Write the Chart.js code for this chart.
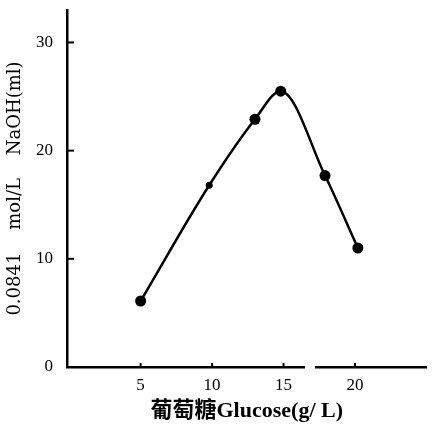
<!DOCTYPE html>
<html>
<head>
<meta charset="utf-8">
<script src="https://cdn.jsdelivr.net/npm/chart.js@4"></script>
<style>
  html, body { margin: 0; padding: 0; background: #fff; }
  #wrap { width: 432px; height: 431px; }
</style>
</head>
<body>
<div id="wrap"><canvas id="graphCanvas" width="432" height="431"></canvas></div>
<script>
var glucose = [5, 9.8, 13, 14.8, 17.9, 20.2];
var naoh = [6.1, 16.8, 22.9, 25.5, 17.7, 11.0];
var xTicks = [5, 10, 15, 20];
var yTicks = [0, 10, 20, 30];

var serif = "'Liberation Serif', 'DejaVu Serif', serif";

// small inward tick marks and the break in the x axis, like the scanned figure
var axisMarks = {
    id: 'axisMarks',
    afterDraw: function (chart) {
        var ctx = chart.ctx;
        var xs = chart.scales.x, ys = chart.scales.y;
        var area = chart.chartArea;
        ctx.save();
        ctx.fillStyle = '#fff';
        var g0 = xs.getPixelForValue(16.5), g1 = xs.getPixelForValue(17.2);
        ctx.fillRect(g0, area.bottom - 3, g1 - g0, 6);
        ctx.strokeStyle = '#000';
        ctx.lineWidth = 2;
        for (var i = 0; i < yTicks.length; i++) {
            if (yTicks[i] === 0) continue;
            var py = ys.getPixelForValue(yTicks[i]);
            ctx.beginPath();
            ctx.moveTo(area.left, py);
            ctx.lineTo(area.left + 7, py);
            ctx.stroke();
        }
        for (var j = 0; j < xTicks.length; j++) {
            var px = xs.getPixelForValue(xTicks[j]);
            ctx.beginPath();
            ctx.moveTo(px, area.bottom);
            ctx.lineTo(px, area.bottom - 4);
            ctx.stroke();
        }
        ctx.restore();
    }
};

var chartdata = {
    datasets: [
        {
            data: glucose.map(function (g, i) { return { x: g, y: naoh[i] }; }),
            borderColor: '#000',
            backgroundColor: '#000',
            borderWidth: 2.5,
            cubicInterpolationMode: 'monotone',
            pointRadius: function (c) { return c.dataIndex === 1 ? 3.5 : 5.5; },
            pointBackgroundColor: '#000',
            pointBorderWidth: 0
        }
    ]
};

new Chart(document.getElementById('graphCanvas'), {
    type: 'line',
    data: chartdata,
    plugins: [axisMarks],
    options: {
        responsive: false,
        animation: false,
        layout: { padding: { top: 10, right: 0, bottom: 6, left: 3 } },
        plugins: { legend: { display: false }, tooltip: { enabled: false } },
        scales: {
            x: {
                type: 'linear',
                min: -0.15,
                max: 25,
                afterBuildTicks: function (axis) {
                    axis.ticks = xTicks.map(function (v) { return { value: v }; });
                },
                afterFit: function (axis) {
                    axis.height = 58;
                    axis.paddingLeft = 0;
                    axis.paddingRight = 0;
                },
                border: { display: true, color: '#000', width: 2.5 },
                grid: { display: false },
                ticks: {
                    color: '#000',
                    padding: 0,
                    font: { family: serif, size: 17 }
                },
                title: {
                    display: true,
                    text: '葡萄糖Glucose(g/ L)',
                    color: '#000',
                    padding: { top: 8, bottom: 0 },
                    font: { family: "'Liberation Serif', 'Noto Sans CJK SC', serif", size: 22, weight: 'bold' }
                }
            },
            y: {
                min: 0,
                max: 33,
                afterBuildTicks: function (axis) {
                    axis.ticks = yTicks.map(function (v) { return { value: v }; });
                },
                afterFit: function (axis) {
                    axis.width = 64;
                    axis.paddingTop = 0;
                    axis.paddingBottom = 0;
                },
                border: { display: true, color: '#000', width: 2.5 },
                grid: { display: false },
                ticks: {
                    color: '#000',
                    padding: 6,
                    font: { family: serif, size: 17 }
                },
                title: {
                    display: true,
                    text: '0.0841    mol/L    NaOH(ml)',
                    color: '#000',
                    padding: { top: 2, bottom: 0 },
                    font: { family: "'DejaVu Serif', serif", size: 18 }
                }
            }
        }
    }
});
</script>
</body>
</html>
